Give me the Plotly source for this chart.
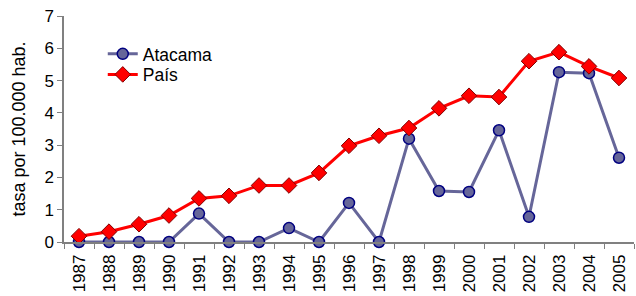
import plotly.graph_objects as go

years = [str(y) for y in range(1987, 2006)]
atacama = [0, 0, 0, 0, 0.88, 0, 0, 0.43, 0, 1.21, 0, 3.2, 1.58, 1.55, 3.46, 0.78, 5.26, 5.23, 2.61]
pais = [0.18, 0.32, 0.55, 0.82, 1.35, 1.43, 1.75, 1.75, 2.14, 2.98, 3.29, 3.53, 4.14, 4.53, 4.49, 5.6, 5.88, 5.44, 5.08]
y_ticks = [0, 1, 2, 3, 4, 5, 6, 7]

fig = go.Figure()
fig.add_trace(go.Scatter(
    x=years, y=atacama, name="Atacama", mode="lines+markers",
    line=dict(color="#666699", width=3),
    marker=dict(symbol="circle", size=11, color="#666699", line=dict(color="#000080", width=1.5)),
    cliponaxis=False, legend="legend",
))
fig.add_trace(go.Scatter(
    x=years, y=pais, name="País", mode="lines+markers",
    line=dict(color="#FF0000", width=3),
    marker=dict(symbol="diamond", size=12, color="#FF0000", line=dict(color="#800000", width=1)),
    cliponaxis=False, legend="legend2",
))

leg_common = dict(xanchor="left", yanchor="middle", bgcolor="rgba(0,0,0,0)",
                  font=dict(size=17.5), borderwidth=0)
fig.update_layout(
    width=636, height=296,
    margin=dict(l=64, r=2, t=16, b=54),
    paper_bgcolor="white", plot_bgcolor="white",
    font=dict(family="Liberation Sans, Arial, sans-serif", color="black"),
    showlegend=True,
    legend=dict(x=0.068, y=0.832, **leg_common),
    legend2=dict(x=0.068, y=0.741, **leg_common),
)
fig.update_xaxes(
    type="category", tickson="boundaries", ticks="outside", ticklen=5,
    tickcolor="#808080", showline=True, linecolor="#808080", linewidth=1.5,
    tickangle=-90, tickfont=dict(size=17), showgrid=False, range=[-0.5, 18.5],
    automargin=False, ticklabelstandoff=4,
)
fig.update_yaxes(
    range=[0, 7], tickvals=y_ticks, ticks="outside", ticklen=5,
    tickcolor="#808080", showline=True, linecolor="#808080", linewidth=1.5,
    tickfont=dict(size=17), showgrid=False, zeroline=False, automargin=False,
    title=dict(text="tasa por 100.000 hab.", font=dict(size=18), standoff=14),
)

fig.write_html("out.html", config={"displayModeBar": False},
               post_script="document.body.style.margin='0';document.body.style.overflow='hidden';")
